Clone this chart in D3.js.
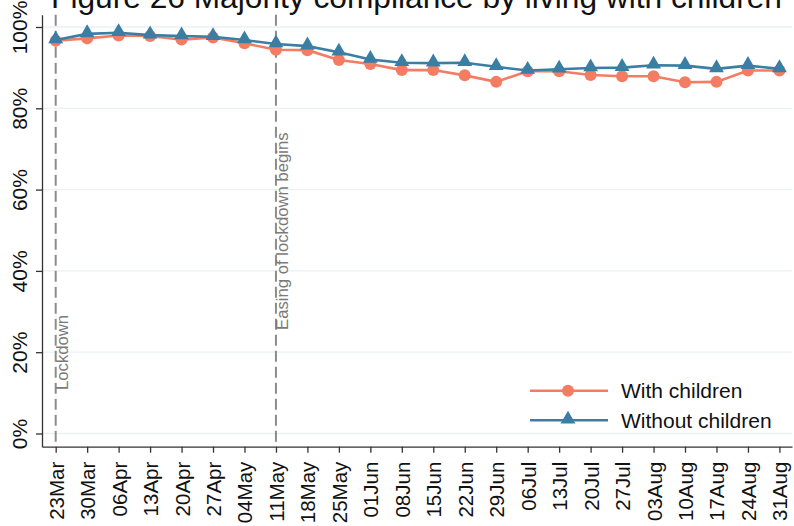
<!DOCTYPE html>
<html>
<head>
<meta charset="utf-8">
<script src="https://cdn.jsdelivr.net/npm/d3@7"></script>
<style>
  html, body { margin: 0; padding: 0; background: #fff; }
  svg { display: block; font-family: "Liberation Sans", Arial, sans-serif; }
</style>
</head>
<body>
<svg id="chart" width="794" height="526"></svg>
<script>
const title = "Figure 26 Majority compliance by living with children";
const weeks = ["23Mar","30Mar","06Apr","13Apr","20Apr","27Apr","04May","11May","18May","25May","01Jun","08Jun","15Jun","22Jun","29Jun","06Jul","13Jul","20Jul","27Jul","03Aug","10Aug","17Aug","24Aug","31Aug"];
const withChildren = [96.6, 97.2, 97.9, 97.8, 96.9, 97.4, 96.0, 94.4, 94.3, 91.9, 90.9, 89.4, 89.4, 88.1, 86.5, 89.1, 89.1, 88.2, 87.9, 87.9, 86.4, 86.5, 89.3, 89.3];
const withoutChildren = [96.8, 98.3, 98.6, 98.0, 97.8, 97.6, 96.8, 95.8, 95.3, 93.8, 92.0, 91.2, 91.1, 91.2, 90.2, 89.3, 89.6, 89.9, 90.0, 90.6, 90.5, 89.7, 90.5, 89.7];
const yTicks = [0, 20, 40, 60, 80, 100];
const events = [{week: "23Mar", label: "Lockdown", y0: 390}, {week: "11May", label: "Easing of lockdown begins", y0: 330}];
const seriesNames = ["With children", "Without children"];
const colors = ["#f47c62", "#3a7ea3"];

const svg = d3.select("#chart");
const pLeft = 42, pRight = 792, pTop = 14.8, pBottom = 446.7;

const x = d3.scaleLinear().domain([-0.435, 23.4]).range([pLeft, pRight]);
const y = d3.scaleLinear().domain([-3.25, 103]).range([pBottom, pTop]);

// gridlines
svg.append("g").selectAll("line").data(yTicks).join("line")
  .attr("x1", pLeft).attr("x2", pRight)
  .attr("y1", d => y(d)).attr("y2", d => y(d))
  .attr("stroke", "#eaf2f3").attr("stroke-width", 1.3);

// event lines
const evG = svg.append("g");
events.forEach(e => {
  const xi = x(weeks.indexOf(e.week));
  evG.append("line").attr("x1", xi).attr("x2", xi).attr("y1", pTop).attr("y2", pBottom)
    .attr("stroke", "#8c8c8c").attr("stroke-width", 2).attr("stroke-dasharray", "11,5");
  evG.append("text").attr("transform", `translate(${xi + 12},${e.y0}) rotate(-90)`)
    .attr("font-size", 16.7).attr("fill", "#7a7a7a").text(e.label);
});

// y axis
const yAxis = svg.append("g").attr("transform", `translate(${pLeft},0)`)
  .call(d3.axisLeft(y).tickValues(yTicks).tickFormat(d => d + "%").tickSize(6).tickSizeOuter(0));
yAxis.select(".domain").attr("stroke", "#333").attr("stroke-width", 1.3);
yAxis.selectAll(".tick line").attr("stroke", "#333").attr("stroke-width", 1.3);
yAxis.selectAll(".tick text")
  .attr("x", null).attr("dy", null)
  .attr("transform", "translate(-15,0) rotate(-90)")
  .attr("text-anchor", "middle")
  .attr("font-size", 21).attr("fill", "#111")
  .attr("font-family", '"Liberation Sans", Arial, sans-serif');

// x axis
const xAxis = svg.append("g").attr("transform", `translate(0,${pBottom})`)
  .call(d3.axisBottom(x).tickValues(d3.range(weeks.length)).tickFormat(i => weeks[i]).tickSize(6).tickSizeOuter(0));
xAxis.select(".domain").attr("stroke", "#333").attr("stroke-width", 1.3);
xAxis.selectAll(".tick line").attr("stroke", "#333").attr("stroke-width", 1.3);
xAxis.selectAll(".tick text")
  .attr("y", null).attr("dy", null)
  .attr("transform", "translate(7.5,15) rotate(-90)")
  .attr("text-anchor", "end")
  .attr("font-size", 20.5).attr("fill", "#111")
  .attr("font-family", '"Liberation Sans", Arial, sans-serif');

// series
const line = d3.line().x((d, i) => x(i)).y(d => y(d));
const tri = d3.symbol().type(d3.symbolTriangle).size(95);

[withChildren, withoutChildren].forEach((vals, s) => {
  const g = svg.append("g");
  g.append("path").datum(vals).attr("d", line).attr("fill", "none")
    .attr("stroke", colors[s]).attr("stroke-width", 2.6);
  if (s === 0) {
    g.selectAll("circle").data(vals).join("circle")
      .attr("cx", (d, i) => x(i)).attr("cy", d => y(d)).attr("r", 6).attr("fill", colors[s]);
  } else {
    g.selectAll("path.m").data(vals).join("path").attr("class", "m")
      .attr("d", tri).attr("transform", (d, i) => `translate(${x(i)},${y(d) - 1})`).attr("fill", colors[s]);
  }
});

// legend
const lg = svg.append("g");
seriesNames.forEach((name, s) => {
  const ly = 390.7 + s * 29.5;
  lg.append("line").attr("x1", 530).attr("x2", 608).attr("y1", ly).attr("y2", ly)
    .attr("stroke", colors[s]).attr("stroke-width", 2.6);
  if (s === 0) lg.append("circle").attr("cx", 568).attr("cy", ly).attr("r", 6).attr("fill", colors[s]);
  else lg.append("path").attr("d", tri).attr("transform", `translate(568,${ly - 1})`).attr("fill", colors[s]);
  lg.append("text").attr("x", 621).attr("y", ly + 7.5).attr("font-size", 21).attr("fill", "#111").text(name);
});

// title
svg.append("text").attr("x", 416.5).attr("y", 8).attr("text-anchor", "middle")
  .attr("font-size", 31.7).attr("fill", "#111").text(title);
</script>
</body>
</html>
